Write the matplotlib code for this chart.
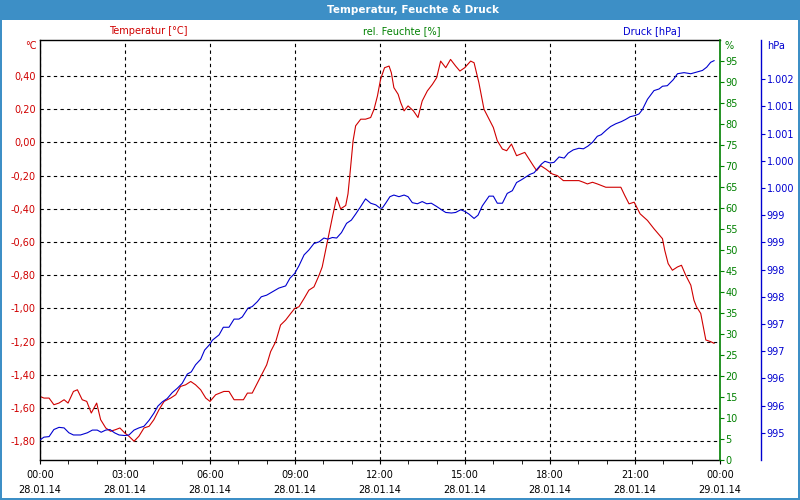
import numpy as np
import matplotlib
matplotlib.use("Agg")
import matplotlib.pyplot as plt
from matplotlib.patches import Rectangle

# temperature [°C], hours since 28.01.14 00:00
temp_hours = [0.0, 0.14, 0.32, 0.49, 0.67, 0.85, 0.99, 1.18, 1.32, 1.49, 1.65, 1.81, 2.00, 2.14,
              2.32, 2.49, 2.67, 2.82, 2.99, 3.14, 3.32, 3.49, 3.67, 3.85, 4.02, 4.20, 4.38, 4.61,
              4.79, 4.96, 5.14, 5.32, 5.49, 5.67, 5.85, 6.00, 6.20, 6.49, 6.67, 6.85, 7.02, 7.18,
              7.32, 7.49, 7.67, 7.85, 8.00, 8.14, 8.32, 8.49, 8.67, 8.85, 8.99, 9.14, 9.32, 9.49,
              9.67, 9.85, 9.96, 10.08, 10.20, 10.32, 10.47, 10.61, 10.79, 10.87, 10.94, 11.05,
              11.14, 11.32, 11.49, 11.67, 11.79, 11.91, 12.02, 12.16, 12.32, 12.40, 12.49, 12.64,
              12.73, 12.85, 12.99, 13.18, 13.34, 13.49, 13.67, 13.85, 14.00, 14.14, 14.32, 14.49,
              14.67, 14.82, 14.99, 15.20, 15.32, 15.49, 15.67, 15.85, 16.00, 16.14, 16.32, 16.47,
              16.64, 16.82, 16.96, 17.11, 17.26, 17.41, 17.53, 17.67, 17.85, 18.08, 18.26, 18.47,
              18.67, 19.02, 19.18, 19.32, 19.50, 19.67, 19.97, 20.26, 20.50, 20.64, 20.79, 20.97,
              21.06, 21.18, 21.44, 21.67, 21.97, 22.05, 22.17, 22.32, 22.50, 22.64, 22.79, 22.97,
              23.08, 23.17, 23.32, 23.41, 23.50, 23.67, 23.79]
temp = [-1.53, -1.54, -1.54, -1.58, -1.57, -1.55, -1.57, -1.50, -1.49, -1.55, -1.56, -1.63, -1.57,
        -1.67, -1.72, -1.74, -1.73, -1.72, -1.75, -1.77, -1.80, -1.77, -1.72, -1.71, -1.67, -1.61,
        -1.56, -1.54, -1.52, -1.47, -1.46, -1.44, -1.46, -1.49, -1.54, -1.56, -1.52, -1.50, -1.50,
        -1.55, -1.55, -1.55, -1.51, -1.51, -1.45, -1.39, -1.34, -1.26, -1.20, -1.10, -1.07, -1.03,
        -1.00, -0.99, -0.94, -0.89, -0.87, -0.80, -0.75, -0.65, -0.55, -0.45, -0.33, -0.40, -0.38,
        -0.31, -0.19, 0.01, 0.10, 0.14, 0.14, 0.15, 0.20, 0.28, 0.38, 0.45, 0.46, 0.42, 0.33, 0.29,
        0.24, 0.19, 0.22, 0.19, 0.15, 0.25, 0.31, 0.35, 0.39, 0.49, 0.45, 0.50, 0.46, 0.43, 0.45,
        0.49, 0.48, 0.36, 0.20, 0.14, 0.09, 0.01, -0.04, -0.05, -0.01, -0.08, -0.07, -0.06, -0.10,
        -0.14, -0.17, -0.14, -0.16, -0.19, -0.20, -0.23, -0.23, -0.23, -0.24, -0.25, -0.24, -0.25,
        -0.27, -0.27, -0.27, -0.32, -0.37, -0.36, -0.39, -0.43, -0.47, -0.52, -0.58, -0.65, -0.73,
        -0.77, -0.75, -0.74, -0.80, -0.86, -0.95, -0.99, -1.03, -1.11, -1.19, -1.20, -1.21]

# pressure [hPa]
press_hours = [0.0, 0.14, 0.32, 0.49, 0.67, 0.85, 1.02, 1.18, 1.43, 1.67, 1.85, 2.02, 2.16, 2.32,
               2.47, 2.63, 2.79, 2.99, 3.14, 3.32, 3.49, 3.67, 3.85, 4.02, 4.16, 4.32, 4.49, 4.67,
               4.85, 5.02, 5.20, 5.34, 5.49, 5.67, 5.81, 6.00, 6.08, 6.32, 6.47, 6.67, 6.85, 7.02,
               7.14, 7.34, 7.49, 7.67, 7.81, 8.00, 8.20, 8.43, 8.67, 8.82, 8.99, 9.14, 9.32, 9.49,
               9.67, 9.85, 10.02, 10.16, 10.32, 10.47, 10.64, 10.82, 10.99, 11.14, 11.32, 11.49,
               11.67, 11.85, 12.00, 12.08, 12.20, 12.35, 12.49, 12.67, 12.85, 12.99, 13.14, 13.32,
               13.49, 13.65, 13.81, 14.00, 14.17, 14.32, 14.52, 14.67, 14.85, 14.99, 15.14, 15.32,
               15.46, 15.61, 15.85, 16.00, 16.14, 16.32, 16.49, 16.67, 16.82, 16.99, 17.14, 17.29,
               17.44, 17.55, 17.70, 17.82, 18.00, 18.14, 18.32, 18.50, 18.64, 18.82, 19.02, 19.18,
               19.34, 19.50, 19.67, 19.81, 20.00, 20.14, 20.32, 20.52, 20.67, 20.83, 20.99, 21.14,
               21.26, 21.44, 21.67, 21.85, 21.97, 22.14, 22.35, 22.50, 22.73, 22.97, 23.18, 23.38,
               23.53, 23.67, 23.79]
press = [994.87, 994.92, 994.93, 995.06, 995.10, 995.09, 995.00, 994.96, 994.96, 995.00, 995.05,
         995.05, 995.01, 995.05, 995.06, 995.00, 994.96, 994.95, 994.96, 995.05, 995.09, 995.12,
         995.23, 995.36, 995.49, 995.57, 995.63, 995.74, 995.82, 995.91, 996.08, 996.12, 996.25,
         996.35, 996.52, 996.63, 996.70, 996.80, 996.94, 996.94, 997.09, 997.09, 997.13, 997.29,
         997.32, 997.41, 997.50, 997.53, 997.59, 997.66, 997.70, 997.84, 997.93, 998.07, 998.27,
         998.36, 998.48, 998.51, 998.58, 998.56, 998.59, 998.58, 998.68, 998.85, 998.91, 999.02,
         999.16, 999.30, 999.22, 999.19, 999.13, 999.13, 999.22, 999.34, 999.37, 999.34, 999.37,
         999.34, 999.23, 999.21, 999.25, 999.21, 999.22, 999.16, 999.10, 999.05, 999.04, 999.05,
         999.10, 999.07, 999.02, 998.94, 999.00, 999.17, 999.35, 999.35, 999.22, 999.22, 999.40,
         999.45, 999.60, 999.65, 999.70, 999.75, 999.78, 999.85, 999.94, 999.99, 999.96, 999.97,
         1000.07, 1000.05, 1000.14, 1000.20, 1000.23, 1000.22, 1000.27, 1000.34, 1000.45, 1000.48,
         1000.57, 1000.63, 1000.68, 1000.72, 1000.76, 1000.81, 1000.83, 1000.86, 1000.94, 1001.13,
         1001.29, 1001.32, 1001.37, 1001.38, 1001.49, 1001.60, 1001.62, 1001.60, 1001.63, 1001.66,
         1001.72, 1001.81, 1001.84]

x_ticks = [0, 3, 6, 9, 12, 15, 18, 21, 24]
x_labels = ["00:00\n28.01.14", "03:00\n28.01.14", "06:00\n28.01.14", "09:00\n28.01.14",
            "12:00\n28.01.14", "15:00\n28.01.14", "18:00\n28.01.14", "21:00\n28.01.14",
            "00:00\n29.01.14"]
temp_ticks = [-1.8, -1.6, -1.4, -1.2, -1.0, -0.8, -0.6, -0.4, -0.2, 0.0, 0.2, 0.4]
hum_ticks = list(range(0, 100, 5))
press_ticks = [995.0, 995.5, 996.0, 996.5, 997.0, 997.5, 998.0, 998.5, 999.0, 999.5,
               1000.0, 1000.5, 1001.0, 1001.5]
press_labels = ["995", "996", "996", "997", "997", "998", "998", "999", "999",
                "1.000", "1.000", "1.001", "1.001", "1.002"]

RED = "#d00000"
GREEN = "#008000"
BLUE = "#0000d0"
BAR = "#3d8fc6"
fs = 7

plt.rcParams["font.family"] = "DejaVu Sans"
fig = plt.figure(figsize=(8, 5), dpi=100)
fig.patch.set_facecolor("white")

# window frame + title bar
fig.add_artist(Rectangle((0, 0.96), 1, 0.04, transform=fig.transFigure, color=BAR, lw=0))
fig.add_artist(Rectangle((0, 0), 2 / 800, 1, transform=fig.transFigure, color=BAR, lw=0))
fig.add_artist(Rectangle((798 / 800, 0), 2 / 800, 1, transform=fig.transFigure, color=BAR, lw=0))
fig.add_artist(Rectangle((0, 0), 1, 2 / 500, transform=fig.transFigure, color=BAR, lw=0))
fig.text(413 / 800, 1 - 10 / 500, "Temperatur, Feuchte & Druck", color="white",
         fontweight="bold", fontsize=7.5, ha="center", va="center")

ax = fig.add_axes([0.05, 0.08, 0.85, 0.84])
ax.plot(temp_hours, temp, color=RED, lw=0.8)
ax.set_xlim(0, 24)
ax.set_ylim(-1.913, 0.617)
ax.set_xticks(x_ticks)
ax.set_xticklabels(x_labels, fontsize=fs, linespacing=1.6)
ax.set_xticks(range(25), minor=True)
ax.tick_params(axis="x", which="both", direction="out", length=3, color="black", pad=4)
ax.set_yticks(temp_ticks)
ax.set_yticklabels([("%.2f" % round(v, 2)).replace(".", ",") for v in temp_ticks],
                   fontsize=fs, color=RED)
ax.tick_params(axis="y", length=0, pad=3)
ax.grid(True, which="major", color="black", linestyle=(0, (3, 3)), lw=0.8)
ax.spines["right"].set_visible(False)
for s in ["left", "top", "bottom"]:
    ax.spines[s].set_color("black")
    ax.spines[s].set_linewidth(1)

# humidity axis (no data line)
ax2 = ax.twinx()
ax2.set_ylim(0, 100)
ax2.set_yticks(hum_ticks)
ax2.set_yticklabels([str(v) for v in hum_ticks], fontsize=fs, color=GREEN)
ax2.tick_params(axis="y", colors=GREEN, length=3, pad=1)
ax2.spines["right"].set_color(GREEN)
ax2.spines["right"].set_linewidth(1.2)
for s in ["left", "top", "bottom"]:
    ax2.spines[s].set_visible(False)

# pressure axis
ax3 = ax.twinx()
ax3.plot(press_hours, press, color=BLUE, lw=0.8)
ax3.set_ylim(994.5, 1002.22)
ax3.spines["right"].set_position(("axes", 1.0603))
ax3.spines["right"].set_color(BLUE)
ax3.spines["right"].set_linewidth(1)
for s in ["left", "top", "bottom"]:
    ax3.spines[s].set_visible(False)
ax3.set_yticks(press_ticks)
ax3.set_yticklabels(press_labels, fontsize=fs, color=BLUE)
ax3.tick_params(axis="y", colors=BLUE, length=3, pad=1)

# series captions and units
fig.text(148 / 800, 1 - 31 / 500, "Temperatur [°C]", color=RED, fontsize=fs, ha="center", va="center")
fig.text(402 / 800, 1 - 31 / 500, "rel. Feuchte [%]", color=GREEN, fontsize=fs, ha="center", va="center")
fig.text(652 / 800, 1 - 31 / 500, "Druck [hPa]", color=BLUE, fontsize=fs, ha="center", va="center")
fig.text(31 / 800, 1 - 46 / 500, "°C", color=RED, fontsize=fs, ha="center", va="center")
fig.text(729 / 800, 1 - 46 / 500, "%", color=GREEN, fontsize=fs, ha="center", va="center")
fig.text(776 / 800, 1 - 46 / 500, "hPa", color=BLUE, fontsize=fs, ha="center", va="center")

fig.savefig("out.png", dpi=100)
